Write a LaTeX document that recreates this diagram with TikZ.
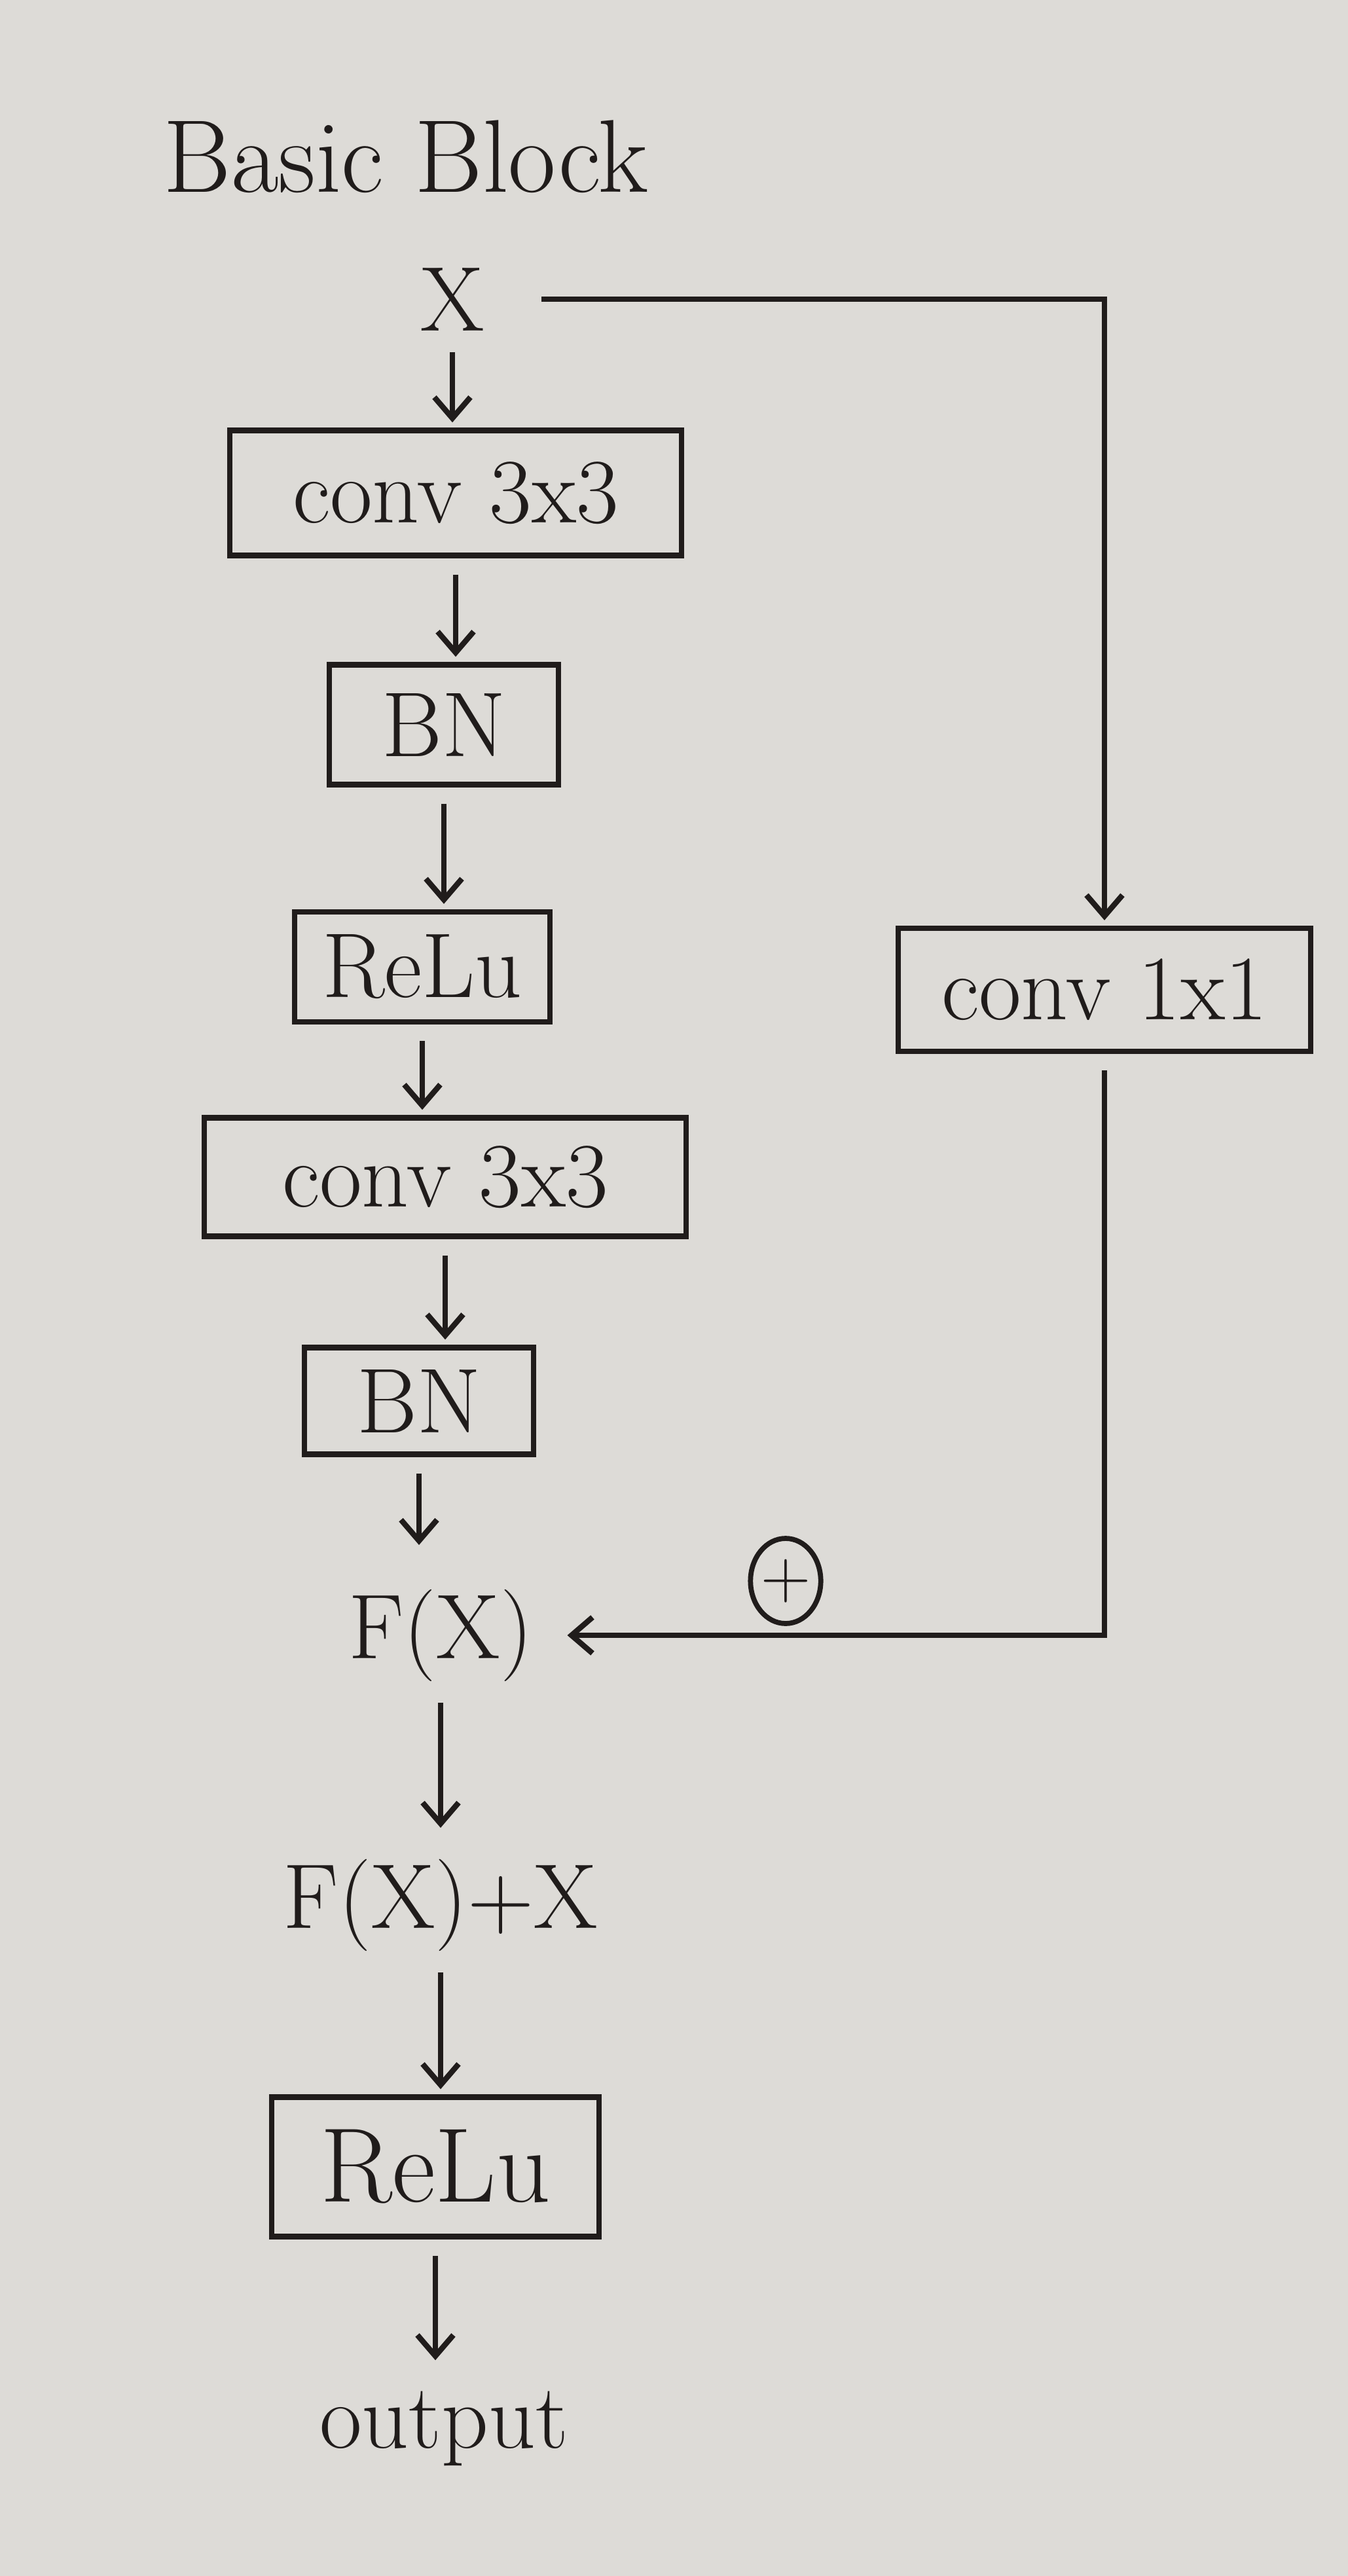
\documentclass[tikz,border=0pt]{standalone}
\usetikzlibrary{arrows.meta,shapes.geometric}
\definecolor{paper}{RGB}{221,219,215}
\definecolor{ink}{RGB}{32,28,27}
\tikzset{
blk/.style={draw,line width=2.4pt,inner sep=0pt},
lbl/.style={font=\fontsize{40}{48}\selectfont,inner sep=2pt,text=ink},
arr/.style={-{Straight Barb[length=0.32cm,width=0.55cm]},line width=2.4pt,shorten <=0.25cm,shorten >=0.08cm},
}
\begin{document}
\begin{tikzpicture}[color=ink,every node/.style={lbl}]
\fill[paper] (0,0) rectangle (20.59,-39.35);
\useasboundingbox (0,0) rectangle (20.59,-39.35);

%%%% main path
%%%%
\node(title)[font=\fontsize{45}{54}\selectfont] at(6.20,-2.39) {Basic Block};
\node(x) at(6.91,-4.57) {X};
\foreach \n \x \y \w \h \t in{
c1/6.96/-7.53/6.9/1.91/conv 3x3,
b1/6.78/-11.07/3.5/1.83/BN,
r1/6.45/-14.77/3.9/1.68/ReLu,
c2/6.80/-17.98/7.36/1.81/conv 3x3,
b2/6.40/-21.40/3.5/1.63/BN%
}{
\node(\n)[blk,minimum width=\w cm,minimum height=\h cm] at(\x,\y) {\t};
}
\node(fx) at(6.73,-24.98) {F(X)};
\node(fxx) at(6.73,-29.10) {F(X)+X};
\node(r2)[blk,minimum width=5cm,minimum height=2.13cm,font=\fontsize{46}{54}\selectfont] at(6.65,-33.10) {ReLu};
\node(out) at(6.78,-37.10) {output};

\foreach \u \v \s in{
x/c1/0.08,c1/b1/0.08,b1/r1/0.08,r1/c2/0.08,c2/b2/0.08,b2/fx/0.6,fx/fxx/0.4,fxx/r2/0.08,r2/out/0.4%
}{
\draw[arr,shorten >=\s cm] (\u.south) -- (\u.south |- \v.north);
}

%%%% shortcut
%%%%
\node(c11)[blk,minimum width=6.3cm,minimum height=1.88cm] at(16.87,-15.12) {conv 1x1};
\node(sum)[draw,ellipse,line width=2.2pt,inner sep=0pt,minimum width=0.8cm,minimum height=1.3cm,font=\fontsize{30}{30}\selectfont] at(12.0,-24.15) {+};

\draw[arr,shorten <=0.8cm] (x.east) -| (c11.north);
\draw[arr,shorten >=0.45cm] (c11.south) |- (fx.east);

\end{tikzpicture}
\end{document}
